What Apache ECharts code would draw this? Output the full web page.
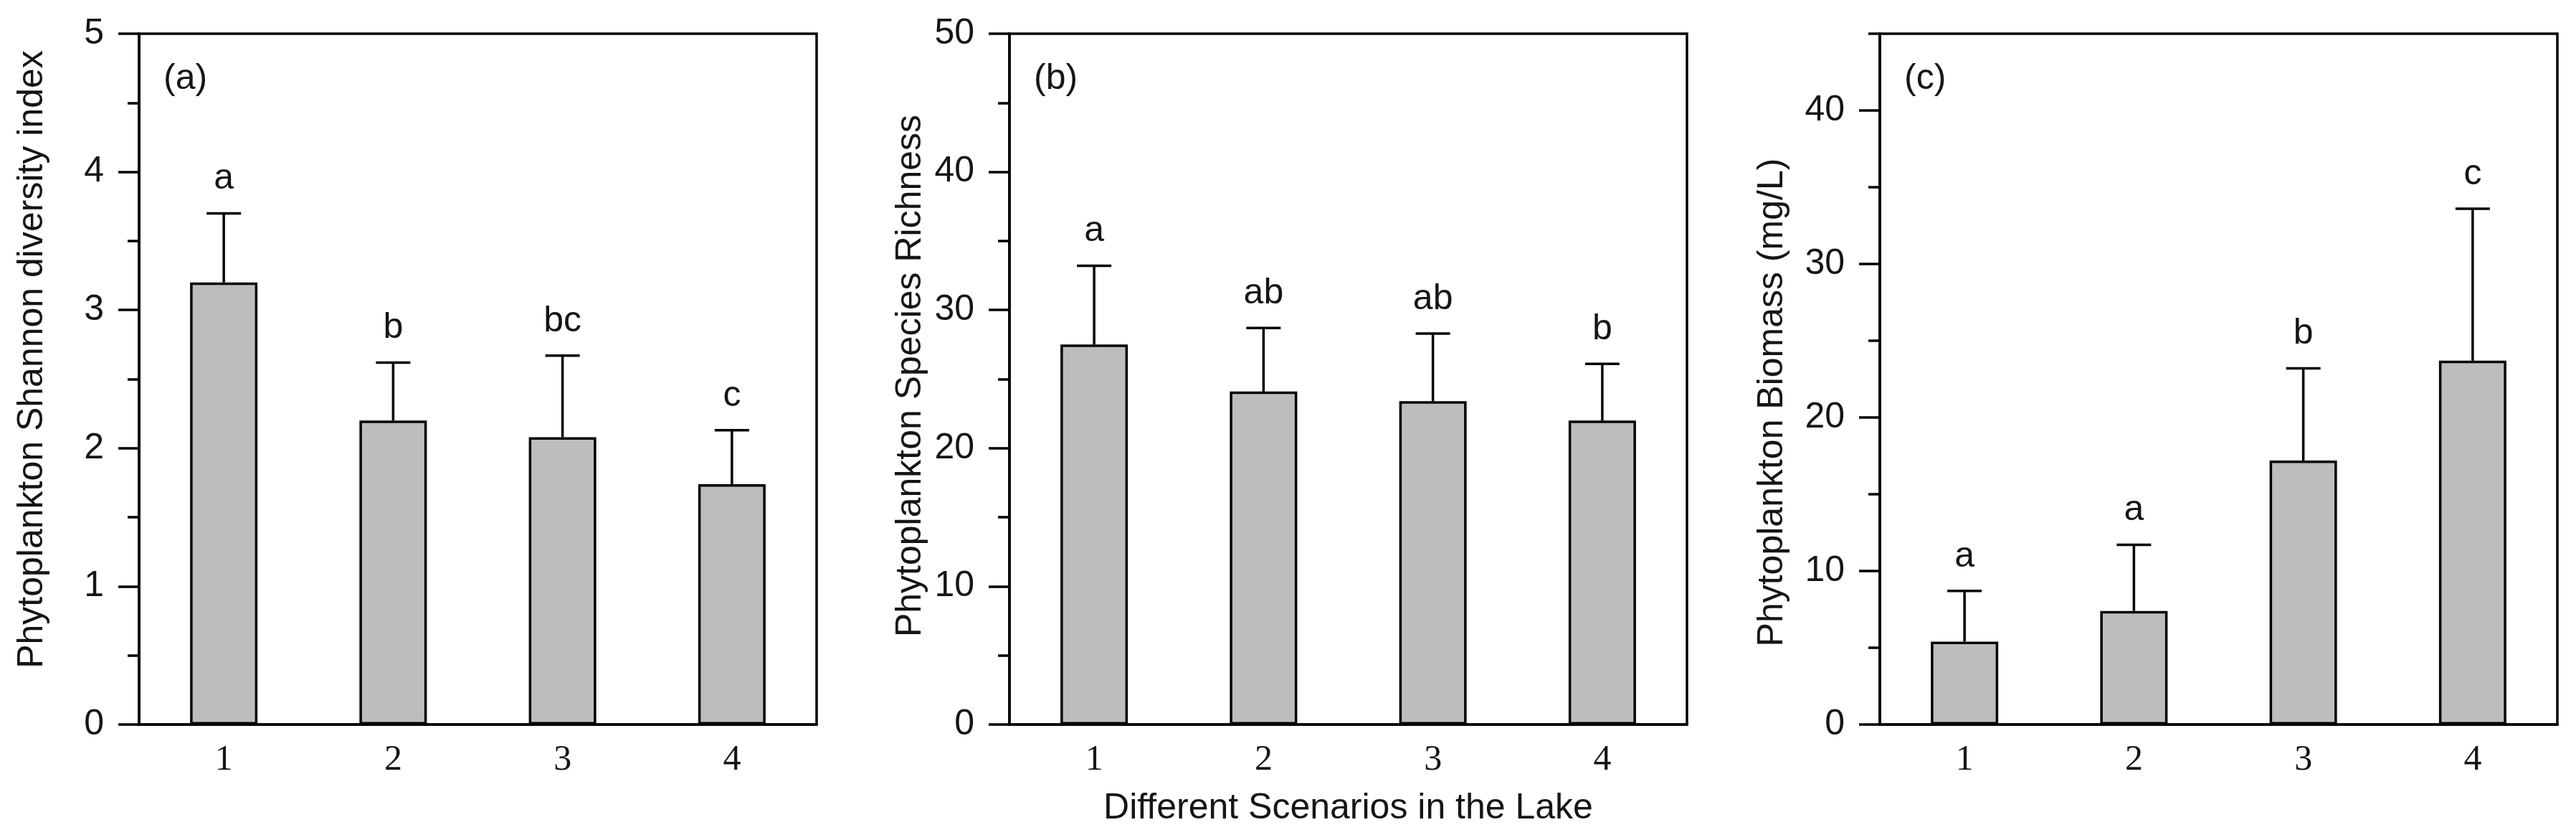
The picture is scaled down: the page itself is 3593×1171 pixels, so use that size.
<!DOCTYPE html>
<html>
<head>
<meta charset="utf-8">
<script src="https://cdn.jsdelivr.net/npm/echarts@6/dist/echarts.min.js"></script>
<style>
  html, body { margin: 0; padding: 0; background: #fff; }
  #chart { width: 3593px; height: 1171px; }
</style>
</head>
<body>
<div id="chart"></div>
<script>
// scenarios on the x axis
var categories = ['1', '2', '3', '4'];

// (a) Shannon diversity index
var shannonMean = [3.20, 2.20, 2.08, 1.74];
var shannonErr = [0.50, 0.42, 0.59, 0.39];
var shannonSig = ['a', 'b', 'bc', 'c'];
var shannonTicks = [0, 1, 2, 3, 4, 5];
var shannonMinor = [0.5, 1.5, 2.5, 3.5, 4.5];

// (b) species richness
var richnessMean = [27.5, 24.1, 23.4, 22.0];
var richnessErr = [5.7, 4.6, 4.9, 4.1];
var richnessSig = ['a', 'ab', 'ab', 'b'];
var richnessTicks = [0, 10, 20, 30, 40, 50];
var richnessMinor = [5, 15, 25, 35, 45];

// (c) biomass (mg/L)
var biomassMean = [5.4, 7.4, 17.2, 23.7];
var biomassErr = [3.3, 4.3, 6.0, 9.9];
var biomassSig = ['a', 'a', 'b', 'c'];
var biomassTicks = [0, 10, 20, 30, 40];
var biomassMinor = [5, 15, 25, 35, 45];

var sans = 'Liberation Sans, Arial, sans-serif';
var serif = 'Liberation Serif, Times New Roman, serif';
var ink = '#151515';
var lw = 3.5;

var panels = [
  { tag: '(a)', title: 'Phytoplankton Shannon diversity index', mean: shannonMean, err: shannonErr, sig: shannonSig,
    ticks: shannonTicks, minor: shannonMinor, max: 5, left: 194, titleX: 45, titleY: 501 },
  { tag: '(b)', title: 'Phytoplankton Species Richness', mean: richnessMean, err: richnessErr, sig: richnessSig,
    ticks: richnessTicks, minor: richnessMinor, max: 50, left: 1408, titleX: 1270, titleY: 524 },
  { tag: '(c)', title: 'Phytoplankton Biomass (mg/L)', mean: biomassMean, err: biomassErr, sig: biomassSig,
    ticks: biomassTicks, minor: biomassMinor, max: 45, left: 2622, titleX: 2472, titleY: 561 }
];

var plotW = 945;
var grids = [], xAxes = [], yAxes = [], series = [], graphics = [];

panels.forEach(function (p, i) {
  grids.push({
    left: p.left, top: 47, width: plotW, bottom: 161,
    show: true, borderColor: '#000', borderWidth: lw, backgroundColor: 'transparent'
  });

  xAxes.push({
    type: 'category', gridIndex: i, data: categories, boundaryGap: true,
    name: i === 1 ? 'Different Scenarios in the Lake' : '',
    nameLocation: 'middle', nameGap: 92,
    nameTextStyle: { fontFamily: sans, fontSize: 50, color: ink },
    axisLine: { lineStyle: { color: '#000', width: lw } },
    axisTick: { alignWithLabel: true, length: 18, lineStyle: { color: '#000', width: lw } },
    axisLabel: { fontFamily: serif, fontSize: 50, color: ink, margin: 25 },
    splitLine: { show: false }
  });

  // major ticks + labels
  yAxes.push({
    type: 'value', gridIndex: i, position: 'left', min: 0, max: p.max,
    axisLine: { show: true, lineStyle: { color: '#000', width: lw } },
    axisTick: { show: true, customValues: p.ticks, length: 29, lineStyle: { color: '#000', width: lw } },
    axisLabel: { customValues: p.ticks, fontFamily: sans, fontSize: 50, color: ink, margin: 49 },
    splitLine: { show: false }
  });
  // minor ticks
  yAxes.push({
    type: 'value', gridIndex: i, position: 'left', min: 0, max: p.max,
    axisLine: { show: false },
    axisTick: { show: true, customValues: p.minor, length: 16, lineStyle: { color: '#000', width: lw } },
    axisLabel: { show: false },
    splitLine: { show: false }
  });

  series.push({
    type: 'bar', xAxisIndex: i, yAxisIndex: i * 2, data: p.mean, barWidth: 94,
    itemStyle: { color: '#bdbdbd', borderColor: '#000', borderWidth: lw },
    silent: true
  });

  var errData = p.mean.map(function (m, k) { return [k, m, m + p.err[k]]; });
  series.push({
    type: 'custom', xAxisIndex: i, yAxisIndex: i * 2, data: errData, z: 5,
    renderItem: function (params, api) {
      var base = api.coord([api.value(0), api.value(1)]);
      var tip = api.coord([api.value(0), api.value(2)]);
      var half = 24;
      return {
        type: 'group',
        children: [
          { type: 'line', shape: { x1: base[0], y1: base[1], x2: tip[0], y2: tip[1] },
            style: { stroke: '#000', lineWidth: lw } },
          { type: 'line', shape: { x1: tip[0] - half, y1: tip[1], x2: tip[0] + half, y2: tip[1] },
            style: { stroke: '#000', lineWidth: lw } },
          { type: 'text', x: tip[0], y: tip[1] - 48,
            style: { text: p.sig[params.dataIndex], fill: ink, font: '50px ' + sans,
                     align: 'center', verticalAlign: 'middle' } }
        ]
      };
    }
  });

  graphics.push({
    type: 'text', x: p.left + 34, y: 110,
    style: { text: p.tag, fill: ink, font: '50px ' + sans, align: 'left', verticalAlign: 'middle' }
  });
  graphics.push({
    type: 'text', x: p.titleX, y: p.titleY, rotation: Math.PI / 2,
    style: { text: p.title, fill: ink, font: '50px ' + sans, align: 'center', verticalAlign: 'middle' }
  });
});

var chart = echarts.init(document.getElementById('chart'));
chart.setOption({
  backgroundColor: '#fff',
  animation: false,
  grid: grids,
  xAxis: xAxes,
  yAxis: yAxes,
  series: series,
  graphic: graphics
});
</script>
</body>
</html>
